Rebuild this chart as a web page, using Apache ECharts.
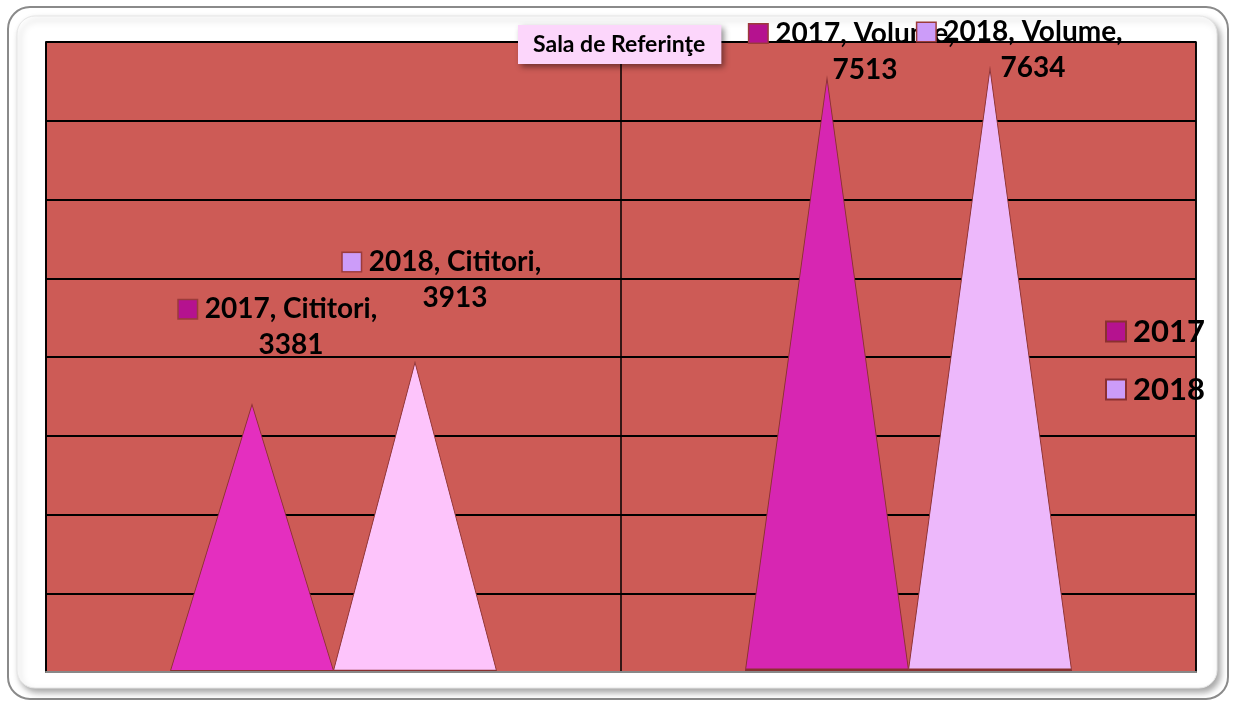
<!DOCTYPE html>
<html>
<head>
<meta charset="utf-8">
<script src="https://cdn.jsdelivr.net/npm/echarts@6/dist/echarts.min.js"></script>
<style>
  html, body { margin: 0; padding: 0; background: #fff; }
  #chart { width: 1233px; height: 706px; }
</style>
</head>
<body>
<div id="chart"></div>
<script>
const categories = ['Cititori', 'Volume']
const years = ['2017', '2018']
const values2017 = [3381, 7513]
const values2018 = [3913, 7634]
const legendColors = ['#b5128f', '#cc9cf9']
const barColors2017 = ['#e42fbf', '#d726b2']
const barColors2018 = ['#fdc4fb', '#edb8fb']
// label shift from the peak, per point
const labelOffsets2017 = [[26, -40], [25, 11]]
const labelOffsets2018 = [[27, -45], [30, 19]]

const chart = echarts.init(document.getElementById('chart'))

const makeData = (values, colors, offsets, year) =>
  values.map((v, i) => ({
    value: v,
    itemStyle: { color: colors[i] },
    label: {
      offset: offsets[i],
      formatter: '{m|}{g|}' + year + ', ' + categories[i] + ',\n{s|}{v|' + v + '}'
    }
  }))

const makeSeries = (idx, values, colors, offsets) => ({
  name: years[idx],
  type: 'pictorialBar',
  symbol: 'triangle',
  symbolSize: ['100%', '100%'],
  barWidth: 163,
  barGap: '0%',
  itemStyle: {
    color: legendColors[idx],
    borderColor: '#8b3030',
    borderWidth: 2
  },
  label: {
    show: true,
    position: 'top',
    distance: 0,
    align: 'center',
    fontFamily: 'Lato',
    fontWeight: 'bold',
    fontSize: 28,
    lineHeight: 36,
    color: '#000',
    rich: {
      m: {
        width: 18, height: 18,
        backgroundColor: legendColors[idx],
        borderColor: '#9b3b3b', borderWidth: 1.5
      },
      g: { width: 8 },
      s: { width: 26 },
      v: { fontFamily: 'Lato', fontWeight: 'bold', fontSize: 28, lineHeight: 36 }
    }
  },
  data: makeData(values, colors, offsets, years[idx]),
  z: 3
})

chart.setOption({
  animation: false,
  title: {
    text: 'Sala de Referinţe',
    left: 518,
    top: 25,
    padding: [8, 16, 8, 15],
    backgroundColor: '#fcd6fb',
    shadowBlur: 6,
    shadowColor: 'rgba(0,0,0,0.45)',
    shadowOffsetX: 3,
    shadowOffsetY: 3,
    textStyle: { fontFamily: 'Lato', fontWeight: 'bold', fontSize: 23, color: '#000' },
    z: 10
  },
  legend: {
    data: years,
    orient: 'vertical',
    left: 1100,
    top: 311,
    itemWidth: 20,
    itemHeight: 20,
    itemGap: 27,
    icon: 'rect',
    textStyle: { fontFamily: 'Lato', fontWeight: 'bold', fontSize: 31, color: '#000', padding: [0, 0, 0, 2] },
    z: 10
  },
  graphic: [
    {
      type: 'rect',
      z: -10,
      shape: { x: 8, y: 7, width: 1220, height: 692, r: 22 },
      style: { fill: '#fff', stroke: '#8a8a8a', lineWidth: 2 }
    },
    {
      type: 'rect',
      z: -9,
      shape: { x: 17, y: 16, width: 1200, height: 672, r: 18 },
      style: {
        fill: '#fff', stroke: '#e6e6e6', lineWidth: 1,
        shadowBlur: 6, shadowColor: 'rgba(0,0,0,0.35)', shadowOffsetX: 3, shadowOffsetY: 4
      }
    }
  ],
  grid: {
    left: 46,
    right: 37,
    top: 42,
    bottom: 34,
    show: true,
    backgroundColor: '#cd5b56',
    borderColor: '#000',
    borderWidth: 1.5
  },
  xAxis: {
    type: 'category',
    data: categories,
    axisLine: { lineStyle: { color: '#888', width: 2 } },
    axisTick: { show: false },
    axisLabel: { show: false },
    splitLine: { show: true, lineStyle: { color: '#000', width: 1.5 } },
    z: 5
  },
  yAxis: {
    type: 'value',
    min: 0,
    max: 8000,
    interval: 1000,
    axisLine: { show: true, lineStyle: { color: '#000', width: 1.5 } },
    axisTick: { show: false },
    axisLabel: { show: false },
    splitLine: { lineStyle: { color: '#000', width: 2 } }
  },
  series: [
    makeSeries(0, values2017, barColors2017, labelOffsets2017),
    makeSeries(1, values2018, barColors2018, labelOffsets2018)
  ]
})
</script>
</body>
</html>
